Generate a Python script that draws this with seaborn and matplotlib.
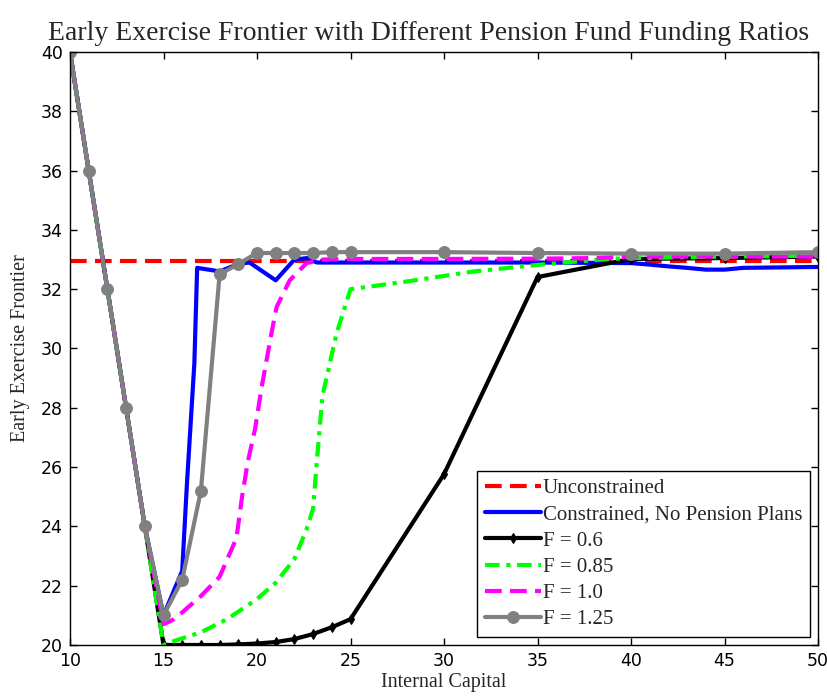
import matplotlib
matplotlib.use("Agg")
import matplotlib.pyplot as plt
import seaborn as sns

# ---------------- data ----------------
unc_x = [10, 15, 20, 25, 30, 35, 40, 45, 50]
unc_y = [32.95, 32.95, 32.95, 32.95, 32.95, 32.95, 32.95, 32.95, 32.95]

con_x = [10, 11, 12, 13, 14, 15, 16, 16.25, 16.65, 16.8, 18, 19, 19.6, 21, 22, 22.7,
         23.2, 25, 30, 35, 40, 41, 42, 43, 44, 45, 46, 50]
con_y = [40, 36, 32, 28, 24, 21.0, 22.5, 25.4, 29.5, 32.72, 32.6, 32.85, 32.9, 32.3, 33.0, 33.05,
         32.9, 32.9, 32.9, 32.9, 32.88, 32.83, 32.77, 32.72, 32.66, 32.66, 32.72, 32.75]

f06_x = [10, 11, 12, 13, 14, 15, 16, 17, 18, 19, 20, 21, 22, 23, 24, 25, 30, 35, 40, 45, 50]
f06_y = [40, 36, 32, 28, 24, 20.0, 20.0, 20.0, 20.0, 20.02, 20.05, 20.1, 20.2, 20.37, 20.6, 20.87,
         25.76, 32.41, 33.02, 33.05, 33.1]

f085_x = [10, 11, 12, 13, 14, 15, 15.5, 17, 18.4, 20, 21, 22, 22.65, 23, 23.2, 23.5, 24.25, 24.7,
          25, 28, 31.6, 35, 38.7, 40, 45, 50]
f085_y = [40, 36, 32, 28, 24, 20.0, 20.12, 20.43, 20.87, 21.55, 22.1, 22.9, 23.9, 24.6, 26.2, 28.4,
          30.5, 31.4, 32.0, 32.26, 32.6, 32.82, 33.02, 33.05, 33.1, 33.13]

f10_x = [10, 11, 12, 13, 14, 15, 15.5, 16, 17, 18, 18.9, 19.2, 19.5, 19.9, 20.25, 20.8, 21.05,
         21.75, 22.65, 23.5, 25, 30, 35, 38, 40, 45, 50]
f10_y = [40, 36, 32, 28, 24, 20.7, 20.85, 21.1, 21.65, 22.3, 23.6, 25.0, 26.15, 27.3, 28.7, 30.6,
         31.4, 32.3, 32.88, 33.0, 33.02, 33.02, 33.03, 33.05, 33.1, 33.1, 33.1]

f125_x = [10, 11, 12, 13, 14, 15, 16, 17, 18, 19, 20, 21, 22, 23, 24, 25, 30, 35, 40, 45, 50]
f125_y = [40, 36, 32, 28, 24, 21.0, 22.2, 25.2, 32.5, 32.85, 33.22, 33.22, 33.22, 33.22, 33.25,
          33.25, 33.25, 33.22, 33.2, 33.2, 33.25]

labels = ["Unconstrained", "Constrained, No Pension Plans", "F = 0.6", "F = 0.85", "F = 1.0", "F = 1.25"]
x_ticks = [10, 15, 20, 25, 30, 35, 40, 45, 50]
y_ticks = [20, 22, 24, 26, 28, 30, 32, 34, 36, 38, 40]

# ---------------- plot ----------------
sns.set_style("ticks")
serif = ["Liberation Serif", "DejaVu Serif"]
plt.rcParams["font.family"] = ["DejaVu Sans"]

fig = plt.figure(figsize=(8.28, 6.97), dpi=100)
ax = fig.add_axes([70 / 828, 1 - 645 / 697, (818 - 70) / 828, (645 - 52) / 697])

lw = 3.0
sns.lineplot(x=unc_x, y=unc_y, ax=ax, color=(1, 0, 0), lw=lw, linestyle=(0, (4, 2)),
             label=labels[0], sort=False)
sns.lineplot(x=con_x, y=con_y, ax=ax, color=(0, 0, 1), lw=lw, linestyle="-",
             label=labels[1], sort=False)
sns.lineplot(x=f06_x, y=f06_y, ax=ax, color="black", lw=lw, linestyle="-", marker="d",
             markersize=5, markeredgecolor="black", label=labels[2], sort=False)
sns.lineplot(x=f085_x, y=f085_y, ax=ax, color=(0, 1, 0), lw=lw, linestyle=(0, (3.5, 1.6, 1, 1.6)),
             label=labels[3], sort=False)
sns.lineplot(x=f10_x, y=f10_y, ax=ax, color=(1, 0, 1), lw=lw, linestyle=(0, (4, 2)),
             label=labels[4], sort=False)
sns.lineplot(x=f125_x, y=f125_y, ax=ax, color=(0.5, 0.5, 0.5), lw=lw, linestyle="-", marker="o",
             markersize=8.5, markeredgecolor=(0.5, 0.5, 0.5), label=labels[5], sort=False)

ax.set_xlim(10, 50)
ax.set_ylim(20, 40)
ax.set_xticks(x_ticks)
ax.set_yticks(y_ticks)
ax.tick_params(direction="in", length=5, width=1, top=True, right=True, labelsize=12.5,
               colors="black", pad=5)
for s in ax.spines.values():
    s.set_visible(True)
    s.set_color("black")
    s.set_linewidth(1.0)

ax.set_title("Early Exercise Frontier with Different Pension Fund Funding Ratios",
             family=serif, fontsize=20, pad=9, x=0.48)
ax.set_xlabel("Internal Capital", family=serif, fontsize=14.5, labelpad=2)
ax.set_ylabel("Early Exercise Frontier", family=serif, fontsize=14.5, labelpad=8)

leg = ax.legend(loc="lower right", prop={"family": serif, "size": 15}, frameon=True,
                fancybox=False, edgecolor="black", framealpha=1, handlelength=2.7,
                handletextpad=0.1, labelspacing=0.32, borderpad=0.35, borderaxespad=0.4)
leg.get_frame().set_linewidth(1.0)

fig.savefig("out.png", dpi=100)
